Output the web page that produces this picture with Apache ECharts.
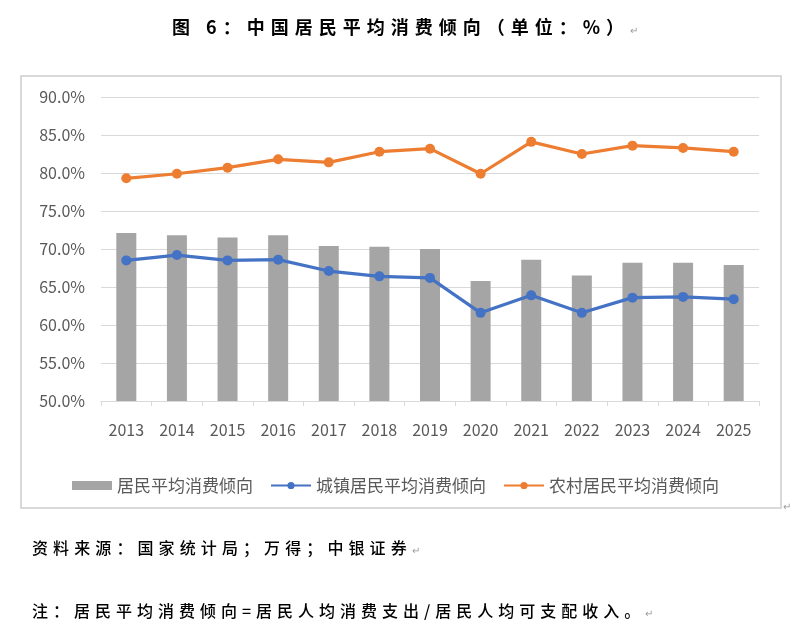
<!DOCTYPE html>
<html>
<head>
<meta charset="utf-8">
<title>中国居民平均消费倾向</title>
<script src="https://cdn.jsdelivr.net/npm/echarts@6/dist/echarts.min.js"></script>
<style>
  body { margin: 0; background: #fff; }
  #page { position: relative; width: 791px; height: 635px; overflow: hidden; }
  #chart { position: absolute; left: 0; top: 0; width: 791px; height: 635px; }
  #box { position: absolute; left: 20px; top: 75px; width: 758px; height: 430px; border: 2px solid #d9d9d9; }
  .txt { position: absolute; white-space: nowrap; color: #000; font-family: "Noto Sans CJK SC", sans-serif; }
  .ret { color: #999; font-size: 10px; letter-spacing: 0; font-weight: normal; }
  #title { left: 172px; top: 13px; font-size: 18px; letter-spacing: 6px; font-weight: bold; }
  #src { left: 32px; top: 535px; font-size: 16px; letter-spacing: 5.1px; font-weight: 500; }
  #note { left: 32px; top: 598px; font-size: 16px; letter-spacing: 5px; font-weight: 500; }
  #boxret { left: 783px; top: 498px; }
</style>
</head>
<body>
<div id="page">
  <div id="box"></div>
  <div id="chart"></div>
  <div class="txt" id="title">图 6：中国居民平均消费倾向（单位：%）<span class="ret">↵</span></div>
  <div class="txt ret" id="boxret">↵</div>
  <div class="txt" id="src">资料来源：国家统计局；万得；中银证券<span class="ret">↵</span></div>
  <div class="txt" id="note">注：居民平均消费倾向=居民人均消费支出/居民人均可支配收入。<span class="ret">↵</span></div>
</div>
<script>
// 年份
const years = ['2013', '2014', '2015', '2016', '2017', '2018', '2019', '2020', '2021', '2022', '2023', '2024', '2025']
// 全国居民平均消费倾向 (%)
const national = [72.1, 71.8, 71.5, 71.8, 70.4, 70.3, 70.0, 65.8, 68.6, 66.5, 68.2, 68.2, 67.9]
// 城镇居民
const urban = [68.5, 69.2, 68.5, 68.6, 67.1, 66.4, 66.2, 61.6, 63.9, 61.6, 63.6, 63.7, 63.4]
// 农村居民
const rural = [79.3, 79.9, 80.7, 81.8, 81.4, 82.8, 83.2, 79.9, 84.1, 82.5, 83.6, 83.3, 82.8]

const seriesNames = ['居民平均消费倾向', '城镇居民平均消费倾向', '农村居民平均消费倾向']

const chart = echarts.init(document.getElementById('chart'))

const labelFont = '"Noto Sans CJK SC", sans-serif'

const option = {
    animation: false,
    textStyle: { fontFamily: labelFont },
    grid: {
        left: 101,
        right: 32,
        top: 97,
        bottom: 234
    },
    legend: {
        top: 472,
        left: 'center',
        itemWidth: 40,
        itemHeight: 9,
        itemGap: 17,
        textStyle: { color: '#595959', fontSize: 17, fontFamily: labelFont },
        data: [
            { name: seriesNames[0], icon: 'rect' },
            { name: seriesNames[1] },
            { name: seriesNames[2] }
        ]
    },
    xAxis: {
        type: 'category',
        data: years,
        axisLine: { lineStyle: { color: '#d9d9d9', width: 1 } },
        axisTick: { show: true, length: 5, lineStyle: { color: '#d9d9d9' } },
        axisLabel: { color: '#595959', fontSize: 16, margin: 21 }
    },
    yAxis: {
        type: 'value',
        min: 50,
        max: 90,
        interval: 5,
        axisLine: { show: false },
        axisTick: { show: false },
        splitLine: { lineStyle: { color: '#d9d9d9', width: 1 } },
        axisLabel: {
            color: '#595959',
            fontSize: 16,
            margin: 16,
            formatter: v => v.toFixed(1) + '%'
        }
    },
    series: [
        {
            name: seriesNames[0],
            type: 'bar',
            data: national,
            barWidth: 20,
            itemStyle: { color: '#a5a5a5' }
        },
        {
            name: seriesNames[1],
            type: 'line',
            data: urban,
            symbol: 'circle',
            symbolSize: 10,
            lineStyle: { color: '#4472c4', width: 3.2 },
            itemStyle: { color: '#4472c4' }
        },
        {
            name: seriesNames[2],
            type: 'line',
            data: rural,
            symbol: 'circle',
            symbolSize: 10,
            lineStyle: { color: '#ed7d31', width: 3.2 },
            itemStyle: { color: '#ed7d31' }
        }
    ]
}

chart.setOption(option)
</script>
</body>
</html>
